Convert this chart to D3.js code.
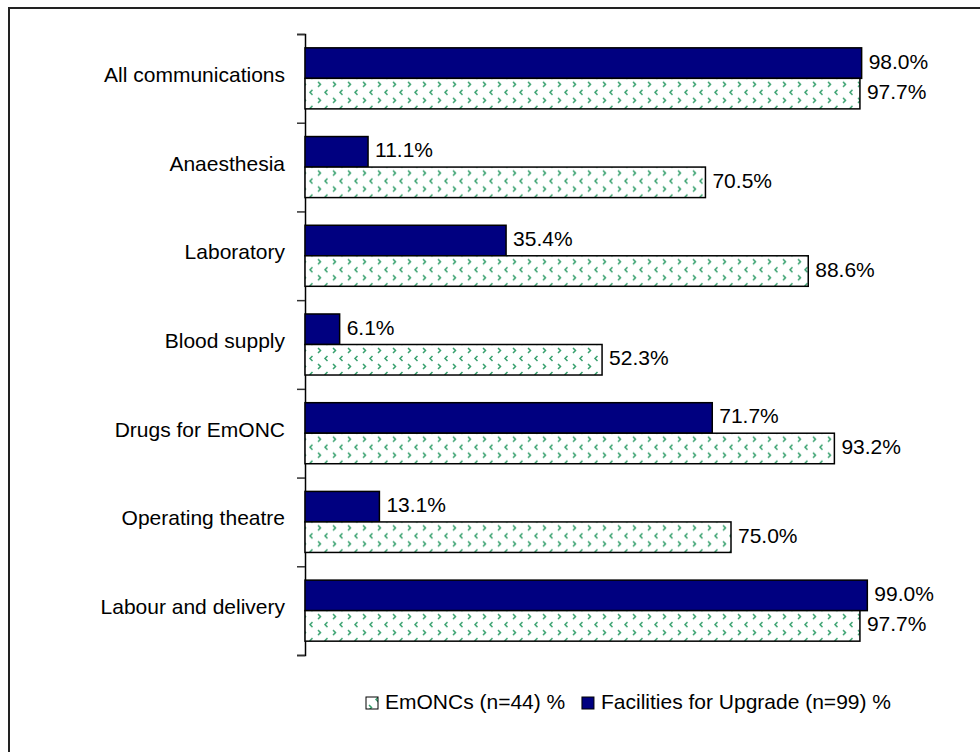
<!DOCTYPE html>
<html>
<head>
<meta charset="utf-8">
<script src="https://cdn.jsdelivr.net/npm/d3@7"></script>
<style>
  html, body { margin: 0; padding: 0; background: #fff; }
  svg text { font-family: "Liberation Sans", Arial, sans-serif; fill: #000; }
</style>
</head>
<body>
<div id="chart"></div>
<script>
// chart data
const categories = ["All communications", "Anaesthesia", "Laboratory", "Blood supply",
                    "Drugs for EmONC", "Operating theatre", "Labour and delivery"];
const seriesNames = ["Facilities for Upgrade (n=99) %", "EmONCs (n=44) %"];
const facilitiesValues = [98.0, 11.1, 35.4, 6.1, 71.7, 13.1, 99.0];
const emoncValues = [97.7, 70.5, 88.6, 52.3, 93.2, 75.0, 97.7];
const legendOrder = ["EmONCs (n=44) %", "Facilities for Upgrade (n=99) %"];

const width = 980, height = 752;
const plot = {left: 305, top: 34, bottom: 655, xMaxPx: 873};
const fontSize = "21px";

const svg = d3.select("#chart").append("svg")
    .attr("width", width)
    .attr("height", height);

// pattern for the EmONCs bars
const defs = svg.append("defs");
const pat = defs.append("pattern")
    .attr("id", "chev")
    .attr("patternUnits", "userSpaceOnUse")
    .attr("width", 15).attr("height", 16);
pat.append("rect").attr("width", 15).attr("height", 16).attr("fill", "#fff");
pat.append("path")
    .attr("d", "M3,2 L5.5,4.5 L3,7")
    .attr("fill", "none").attr("stroke", "#36a06d").attr("stroke-width", 1.5);
pat.append("path")
    .attr("d", "M12.5,10 L10,12.5 L12.5,15")
    .attr("fill", "none").attr("stroke", "#36a06d").attr("stroke-width", 1.5);

const fills = {"Facilities for Upgrade (n=99) %": "#000080", "EmONCs (n=44) %": "url(#chev)"};

// outer frame
svg.append("rect")
    .attr("x", 9).attr("y", 8)
    .attr("width", 1000).attr("height", 800)
    .attr("fill", "none").attr("stroke", "#222").attr("stroke-width", 2);

const x = d3.scaleLinear().domain([0, 100]).range([plot.left, plot.xMaxPx]);

const y = d3.scaleBand()
    .domain(categories)
    .range([plot.top, plot.bottom])
    .paddingInner(0.312)
    .paddingOuter(0.156);

const ySub = d3.scaleBand()
    .domain(seriesNames)
    .range([0, y.bandwidth()]);

// category axis with ticks on band boundaries
const yIdx = d3.scaleLinear().domain([0, categories.length]).range([plot.top, plot.bottom]);
const axis = svg.append("g")
    .attr("transform", `translate(${plot.left},0)`)
    .call(d3.axisLeft(yIdx).tickValues(d3.range(categories.length + 1)).tickSize(8).tickFormat(""));
axis.select(".domain").attr("stroke", "#000").attr("stroke-width", 1.5);
axis.selectAll(".tick line").attr("stroke", "#333").attr("stroke-width", 1.5);

svg.append("g").selectAll("text")
    .data(categories)
    .join("text")
    .attr("x", 285)
    .attr("y", d => y(d) + y.bandwidth() / 2 - 2)
    .attr("text-anchor", "end")
    .attr("dominant-baseline", "middle")
    .style("font-size", fontSize)
    .text(d => d);

const rows = categories.map((c, i) => ({
    category: c,
    values: [
        {series: seriesNames[0], value: facilitiesValues[i]},
        {series: seriesNames[1], value: emoncValues[i]}
    ]
}));

const groups = svg.append("g").selectAll("g")
    .data(rows)
    .join("g")
    .attr("transform", d => `translate(0,${y(d.category)})`);

groups.selectAll("rect")
    .data(d => d.values)
    .join("rect")
    .attr("x", x(0))
    .attr("y", d => ySub(d.series))
    .attr("width", d => x(d.value) - x(0))
    .attr("height", ySub.bandwidth())
    .attr("fill", d => fills[d.series])
    .attr("stroke", "#000")
    .attr("stroke-width", 1.5);

groups.selectAll("text")
    .data(d => d.values)
    .join("text")
    .attr("x", d => x(d.value) + 7)
    .attr("y", d => ySub(d.series) + ySub.bandwidth() / 2)
    .attr("dominant-baseline", "middle")
    .style("font-size", fontSize)
    .text(d => d.value.toFixed(1) + "%");

// legend, laid out from x=366 to x=891
const legend = svg.append("g").attr("transform", "translate(366,703)");
const items = legendOrder.map(name => {
    const g = legend.append("g");
    g.append("rect")
        .attr("x", 0).attr("y", -6)
        .attr("width", 12).attr("height", 12)
        .attr("fill", fills[name])
        .attr("stroke", "#000").attr("stroke-width", 1);
    const t = g.append("text")
        .attr("x", 19).attr("y", 0)
        .attr("dominant-baseline", "middle")
        .style("font-size", fontSize)
        .text(name);
    return {g, w: 19 + t.node().getComputedTextLength()};
});
const gap = Math.max(8, (891 - 366) - items[0].w - items[1].w);
items[1].g.attr("transform", `translate(${items[0].w + gap},0)`);
</script>
</body>
</html>
